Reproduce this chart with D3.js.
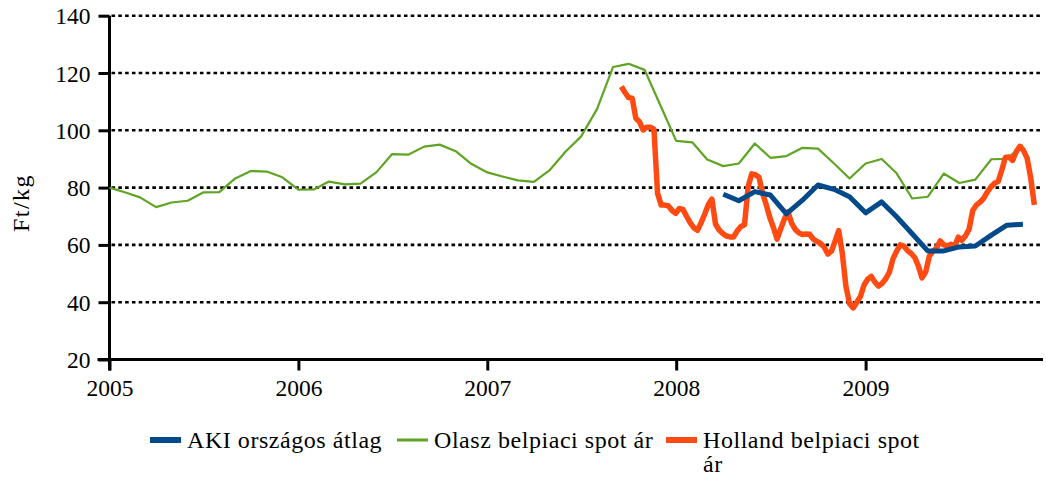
<!DOCTYPE html>
<html>
<head>
<meta charset="utf-8">
<script src="https://cdn.jsdelivr.net/npm/d3@7"></script>
<style>
  html, body { margin: 0; padding: 0; background: #fff; }
  svg { display: block; }
</style>
</head>
<body>
<svg id="chart" width="1046" height="478"></svg>
<script>
// ---- Data ----
const yTicks = [20, 40, 60, 80, 100, 120, 140];
const xTickYears = [2005, 2006, 2007, 2008, 2009];
const seriesNames = ["AKI országos átlag", "Olasz belpiaci spot ár", "Holland belpiaci spot ár"];

// Olasz belpiaci spot ár – monthly, Jan 2005 .. Nov 2009
const olaszStart = [2005, 0];
const olaszValues = [
  80, 78.3, 76.6, 73.2, 74.8, 75.4, 78.3, 78.4, 83.2, 85.8, 85.6, 83.6,
  79.3, 79.4, 82.1, 81.1, 81.4, 85.4, 91.7, 91.5, 94.3, 95.0, 92.7, 88.3,
  85.3, 83.8, 82.5, 82.0, 86.0, 92.5, 97.8, 107.4, 122.1, 123.2, 121.1, 108.9,
  96.3, 95.8, 89.8, 87.5, 88.4, 95.4, 90.4, 91.0, 93.9, 93.6, 88.4, 83.2,
  88.4, 90.0, 85.2, 76.2, 76.8, 84.9, 81.6, 82.8, 89.9, 90.0, 94.9
];

// AKI országos átlag – monthly, Apr 2008 .. Nov 2009
const akiStart = [2008, 3];
const akiValues = [
  77.7, 75.4, 78.6, 77.4, 70.8, 75.6, 80.9, 79.4, 76.8, 71.2,
  75.0, 70.0, 63.9, 57.9, 57.9, 59.3, 59.6, 63.4, 66.9, 67.2
];

// Holland belpiaci spot ár – weekly, from 17 Sep 2007
const hollandStart = [2007, 8, 17];
const hollandValues = [
  115.3, 113.2, 111.4, 111.2, 104.2, 103.0, 100.1, 101.1, 101.1, 100.4,
  78.0, 73.9, 73.9, 73.6, 72.0, 71.0, 72.7, 72.4, 70.0, 67.8,
  66.0, 65.1, 67.7, 70.7, 74.0, 76.0, 67.3, 65.2, 64.0, 63.1,
  62.8, 62.8, 64.9, 66.4, 67.0, 80.3, 84.8, 84.5, 83.6, 78.0,
  74.0, 69.5, 66.0, 62.0, 65.6, 69.0, 71.5, 67.6, 65.4, 64.2,
  63.6, 63.8, 63.7, 62.0, 61.2, 60.5, 59.2, 56.8, 57.8, 61.3,
  65.0, 57.0, 45.5, 39.5, 38.0, 40.0, 42.0, 46.0, 48.0, 49.0,
  47.0, 45.6, 46.6, 48.2, 50.5, 55.2, 57.8, 60.0, 59.6, 58.0,
  57.0, 55.6, 52.6, 48.5, 50.5, 56.0, 57.8, 58.9, 61.4, 60.0,
  59.7, 60.2, 59.5, 62.7, 61.6, 63.2, 65.5, 72.0, 73.9, 74.9,
  76.2, 78.4, 80.2, 81.5, 82.1, 86.0, 90.5, 90.7, 89.5, 92.5,
  94.4, 93.0, 90.3, 83.5, 74.0
];

// ---- Build dated points ----
const olasz = olaszValues.map((v, i) => ({ d: new Date(olaszStart[0], olaszStart[1] + i, 1), v }));
const aki = akiValues.map((v, i) => ({ d: new Date(akiStart[0], akiStart[1] + i, 1), v }));
const holland = hollandValues.map((v, i) => ({ d: new Date(hollandStart[0], hollandStart[1], hollandStart[2] + 7 * i), v }));

// ---- Layout ----
const svg = d3.select("#chart");
const mLeft = 109.5, mRight = 1043, mTop = 15.7, mBottom = 359.5;
const FONT = "Liberation Serif";

const x = d3.scaleTime()
  .domain([new Date(2005, 0, 1), new Date(2010, 0, 1)])
  .range([mLeft, mLeft + 5 * 189]);
const y = d3.scaleLinear().domain([20, 140]).range([mBottom, mTop]);

// Gridlines
svg.append("g")
  .selectAll("line")
  .data(yTicks.filter(t => t > 20))
  .join("line")
  .attr("x1", mLeft + 2).attr("x2", mRight - 1)
  .attr("y1", d => y(d)).attr("y2", d => y(d))
  .attr("stroke", "#000")
  .attr("stroke-width", 2.6)
  .attr("stroke-dasharray", "3.6,3.2");

// Y axis
const yAxis = svg.append("g")
  .attr("transform", `translate(${mLeft},0)`)
  .call(d3.axisLeft(y).tickValues(yTicks).tickSize(11).tickPadding(8).tickFormat(d3.format("d")));
yAxis.attr("font-family", FONT).attr("font-size", 23.5);
yAxis.select(".domain").remove();
yAxis.selectAll(".tick line").attr("stroke", "#000").attr("stroke-width", 3);
yAxis.selectAll(".tick text").attr("fill", "#000").attr("dy", "0.34em");
svg.append("line")
  .attr("x1", mLeft).attr("x2", mLeft)
  .attr("y1", mTop).attr("y2", mBottom + 11)
  .attr("stroke", "#000").attr("stroke-width", 3);

// X axis
const xAxis = svg.append("g")
  .attr("transform", `translate(0,${mBottom})`)
  .call(d3.axisBottom(x)
    .tickValues(xTickYears.map(yr => new Date(yr, 0, 1)))
    .tickSize(11).tickPadding(9)
    .tickFormat(d3.timeFormat("%Y")));
xAxis.attr("font-family", FONT).attr("font-size", 23.5);
xAxis.select(".domain").remove();
xAxis.selectAll(".tick line").attr("stroke", "#000").attr("stroke-width", 3);
xAxis.selectAll(".tick text").attr("fill", "#000");
svg.append("line")
  .attr("x1", mLeft - 12).attr("x2", mRight)
  .attr("y1", mBottom).attr("y2", mBottom)
  .attr("stroke", "#000").attr("stroke-width", 3);

// Y label
svg.append("text")
  .attr("transform", `translate(29,203) rotate(-90)`)
  .attr("text-anchor", "middle")
  .attr("font-family", FONT)
  .attr("font-size", 24)
  .attr("letter-spacing", 1.5)
  .text("Ft/kg");

// Lines
const line = d3.line().x(d => x(d.d)).y(d => y(d.v));
const colors = ["#044a8a", "#5fa424", "#ff4a12"];
const widths = [5, 2.2, 5.5];

svg.append("path").datum(olasz)
  .attr("fill", "none").attr("stroke", colors[1]).attr("stroke-width", widths[1])
  .attr("stroke-linejoin", "round").attr("d", line);
svg.append("path").datum(holland)
  .attr("fill", "none").attr("stroke", colors[2]).attr("stroke-width", widths[2])
  .attr("stroke-linejoin", "round").attr("d", line);
svg.append("path").datum(aki)
  .attr("fill", "none").attr("stroke", colors[0]).attr("stroke-width", widths[0])
  .attr("stroke-linejoin", "round").attr("d", line);

// Legend
const legend = svg.append("g").attr("font-size", 24).attr("font-family", FONT).attr("letter-spacing", 0.55);
const legItems = [
  { x: 150, name: seriesNames[0], c: colors[0], h: 6 },
  { x: 397, name: seriesNames[1], c: colors[1], h: 3 },
  { x: 666, name: seriesNames[2], c: colors[2], h: 6 }
];
legItems.forEach((it, i) => {
  const g = legend.append("g");
  g.append("rect").attr("x", it.x).attr("y", 440 - it.h / 2).attr("width", 31).attr("height", it.h).attr("fill", it.c);
  if (i === 2) {
    const t = g.append("text").attr("x", it.x + 37).attr("y", 448);
    t.append("tspan").attr("x", it.x + 37).attr("y", 448).text("Holland belpiaci spot");
    t.append("tspan").attr("x", it.x + 37).attr("y", 472).text("ár");
  } else {
    g.append("text").attr("x", it.x + 37).attr("y", 448).text(it.name);
  }
});
</script>
</body>
</html>
